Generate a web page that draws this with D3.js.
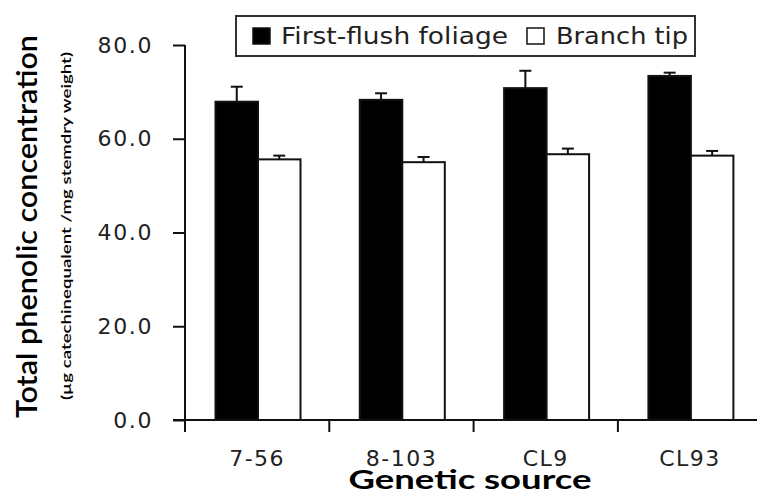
<!DOCTYPE html>
<html><head><meta charset="utf-8">
<script src="https://cdn.jsdelivr.net/npm/d3@7"></script>
<style>body{margin:0;background:#fff}svg{display:block}</style>
</head><body>
<svg id="c" width="757" height="494"></svg>
<script>
const categories = ["7-56", "8-103", "CL9", "CL93"];
const seriesNames = ["First-flush foliage", "Branch tip"];
const foliage = [67.9, 68.3, 70.8, 73.4];
const foliageErr = [3.2, 1.4, 3.7, 0.7];
const branch = [55.6, 55.0, 56.7, 56.4];
const branchErr = [0.8, 1.1, 1.2, 1.0];
const yTicks = [0, 20, 40, 60, 80];

const svg = d3.select("#c");
const tickFont = "'DejaVu Sans', Verdana, sans-serif";

const y = d3.scaleLinear().domain([0, 80]).range([420, 45]);
const x0 = d3.scaleBand().domain(categories).range([185, 185 + 4 * 144.3]).padding(0);
const x1 = d3.scaleBand().domain(seriesNames).range([30.5, 30.5 + 85]).padding(0);

const data = [];
categories.forEach((c, i) => {
  data.push({cat: c, s: seriesNames[0], v: foliage[i], e: foliageErr[i], fill: "#000"});
  data.push({cat: c, s: seriesNames[1], v: branch[i], e: branchErr[i], fill: "#fff"});
});

// error bars (upward only)
const eg = svg.append("g").attr("stroke", "#111").attr("stroke-width", 2);
data.forEach(d => {
  const cx = x0(d.cat) + x1(d.s) + x1.bandwidth() / 2;
  eg.append("line").attr("x1", cx).attr("x2", cx).attr("y1", y(d.v)).attr("y2", y(d.v + d.e));
  eg.append("line").attr("x1", cx - 6).attr("x2", cx + 6).attr("y1", y(d.v + d.e)).attr("y2", y(d.v + d.e));
});

// bars
svg.append("g").selectAll("rect").data(data).join("rect")
  .attr("x", d => x0(d.cat) + x1(d.s))
  .attr("y", d => y(d.v))
  .attr("width", x1.bandwidth())
  .attr("height", d => y(0) - y(d.v))
  .attr("fill", d => d.fill)
  .attr("stroke", "#111")
  .attr("stroke-width", 2);

// y axis
const ya = svg.append("g").attr("transform", "translate(185,0)")
  .call(d3.axisLeft(y).tickValues(yTicks).tickFormat(d3.format(".1f")).tickSize(12).tickSizeOuter(0).tickPadding(20));
ya.select(".domain").remove();
ya.selectAll(".tick line").attr("stroke", "#111").attr("stroke-width", 2);
ya.selectAll(".tick text").attr("font-family", tickFont).attr("font-size", 22).attr("fill", "#222")
  .attr("letter-spacing", 1.6);
svg.append("line").attr("x1", 185).attr("x2", 185).attr("y1", y(80)).attr("y2", y(0) + 12)
  .attr("stroke", "#111").attr("stroke-width", 2);

// x axis
svg.append("line").attr("x1", 173).attr("x2", 757).attr("y1", y(0)).attr("y2", y(0))
  .attr("stroke", "#111").attr("stroke-width", 2);
svg.append("g").selectAll("line").data(categories).join("line")
  .attr("x1", d => x0(d)).attr("x2", d => x0(d))
  .attr("y1", y(0)).attr("y2", y(0) + 12)
  .attr("stroke", "#111").attr("stroke-width", 2);
svg.append("g").selectAll("text").data(categories).join("text")
  .attr("x", d => x0(d) + x0.bandwidth() / 2)
  .attr("y", 466)
  .attr("text-anchor", "middle")
  .attr("font-family", tickFont).attr("font-size", 22).attr("fill", "#222")
  .attr("letter-spacing", 1.5)
  .text(d => d);

// axis titles
svg.append("text")
  .attr("transform", "translate(37,226.5) rotate(-90)")
  .attr("text-anchor", "middle")
  .attr("font-family", "Lato, sans-serif").attr("font-size", 28).attr("font-weight", 600)
  .attr("fill", "#000")
  .attr("textLength", 383).attr("lengthAdjust", "spacingAndGlyphs")
  .text("Total phenolic concentration");
svg.append("text")
  .attr("transform", "translate(71,226) rotate(-90)")
  .attr("text-anchor", "middle")
  .attr("font-family", "Lato, sans-serif").attr("font-size", 14).attr("font-weight", 600)
  .attr("fill", "#000")
  .attr("textLength", 348).attr("lengthAdjust", "spacingAndGlyphs")
  .text("(µg catechinequalent /mg stemdry weight)");
svg.append("text")
  .attr("x", 470).attr("y", 489)
  .attr("text-anchor", "middle")
  .attr("font-family", "Lato, sans-serif").attr("font-size", 26).attr("font-weight", 700)
  .attr("fill", "#000")
  .attr("textLength", 243).attr("lengthAdjust", "spacingAndGlyphs")
  .text("Genetic source");

// legend
const lg = svg.append("g");
lg.append("rect").attr("x", 236).attr("y", 16).attr("width", 459).attr("height", 40)
  .attr("fill", "#fff").attr("stroke", "#333").attr("stroke-width", 2);
const legendItems = [
  {name: seriesNames[0], fill: "#000", sx: 253, tx: 281, tl: 227},
  {name: seriesNames[1], fill: "#fff", sx: 527, tx: 556, tl: 132}
];
legendItems.forEach(it => {
  lg.append("rect").attr("x", it.sx).attr("y", 28).attr("width", 17).attr("height", 16)
    .attr("fill", it.fill).attr("stroke", "#111").attr("stroke-width", 1.5);
  lg.append("text").attr("x", it.tx).attr("y", 44)
    .attr("font-family", tickFont).attr("font-size", 23).attr("fill", "#222")
    .attr("textLength", it.tl).attr("lengthAdjust", "spacingAndGlyphs")
    .text(it.name);
});
</script>
</body></html>
